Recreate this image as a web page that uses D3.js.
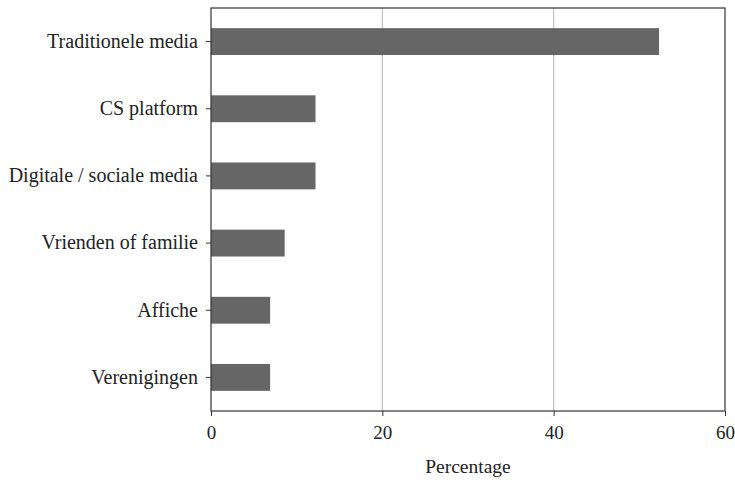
<!DOCTYPE html>
<html>
<head>
<meta charset="utf-8">
<script src="https://cdn.jsdelivr.net/npm/d3@7"></script>
<style>
  body { margin: 0; background: #fff; }
  text { font-family: "Liberation Serif", "DejaVu Serif", serif; fill: #222; }
</style>
</head>
<body>
<div id="chart"></div>
<script>
// data
let categories = ["Traditionele media", "CS platform", "Digitale / sociale media", "Vrienden of familie", "Affiche", "Verenigingen"];
let values = [52.3, 12.2, 12.2, 8.6, 6.9, 6.9];
let xTicks = [0, 20, 40, 60];
let gridTicks = [20, 40];

let width = 735, height = 480;
let margin = {top: 8, right: 10, bottom: 69, left: 211};
let innerW = width - margin.left - margin.right;
let innerH = height - margin.top - margin.bottom;

let svg = d3.select("#chart").append("svg")
    .attr("width", width)
    .attr("height", height);

let g = svg.append("g")
    .attr("transform", `translate(${margin.left},${margin.top})`);

let x = d3.scaleLinear().domain([0, 60]).range([0, innerW]);
let y = d3.scaleBand().domain(categories).range([0, innerH]).paddingInner(0.6).paddingOuter(0.3);

// grid lines
g.selectAll(".grid")
    .data(gridTicks)
    .enter().append("line")
    .attr("x1", d => x(d)).attr("x2", d => x(d))
    .attr("y1", 0).attr("y2", innerH)
    .attr("stroke", "#b5b5b5")
    .attr("stroke-width", 1);

// bars
g.selectAll(".bar")
    .data(categories)
    .enter().append("rect")
    .attr("x", 0)
    .attr("y", d => y(d))
    .attr("width", (d, i) => x(values[i]))
    .attr("height", y.bandwidth())
    .attr("fill", "#666666");

// frame
g.append("rect")
    .attr("width", innerW).attr("height", innerH)
    .attr("fill", "none")
    .attr("stroke", "#333")
    .attr("stroke-width", 1.2);

// x axis
let xAxis = g.append("g")
    .attr("transform", `translate(0,${innerH})`)
    .call(d3.axisBottom(x).tickValues(xTicks).tickSize(5).tickPadding(10));
xAxis.select(".domain").remove();
xAxis.selectAll("text").attr("font-size", "19px").style("font-family", "Liberation Serif");
xAxis.selectAll("line").attr("stroke", "#333");

// y axis
let yAxis = g.append("g")
    .call(d3.axisLeft(y).tickSize(5).tickPadding(8));
yAxis.select(".domain").remove();
yAxis.selectAll("text").attr("font-size", "20px").style("font-family", "Liberation Serif");
yAxis.selectAll("line").attr("stroke", "#333");

// axis title
svg.append("text")
    .attr("x", margin.left + innerW / 2)
    .attr("y", 473)
    .attr("text-anchor", "middle")
    .attr("font-size", "19.5px")
    .text("Percentage");
</script>
</body>
</html>
